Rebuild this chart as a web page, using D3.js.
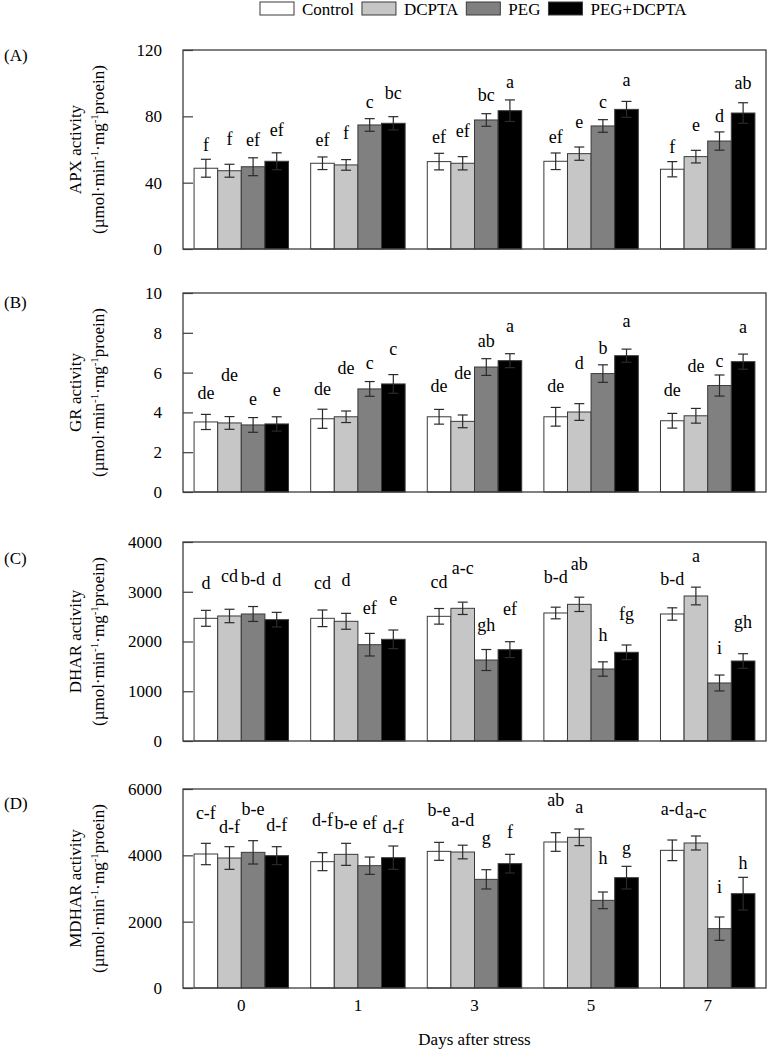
<!DOCTYPE html>
<html><head><meta charset="utf-8">
<script src="https://cdn.jsdelivr.net/npm/d3@7"></script>
<style>
html,body{margin:0;padding:0;background:#fff;}
svg{display:block;font-family:"Liberation Serif","Times New Roman",serif;}
</style></head>
<body><svg id="chart" width="767" height="1049"></svg>
<script>
// ---------- data ----------
const days = ["0", "1", "3", "5", "7"];
const series = ["Control", "DCPTA", "PEG", "PEG+DCPTA"];

// APX
const apxControl = [48.7, 51.7, 52.7, 52.9, 48.1];
const apxDcpta   = [47.2, 50.7, 51.7, 57.5, 55.7];
const apxPeg     = [49.6, 74.8, 77.8, 74.2, 65.1];
const apxPegDcpta= [52.9, 75.8, 83.4, 84.2, 82.0];
const apxErrControl = [5.4, 3.8, 5.0, 5.0, 4.6];
const apxErrDcpta   = [3.9, 3.2, 4.0, 4.0, 3.8];
const apxErrPeg     = [5.4, 3.8, 3.8, 3.8, 5.5];
const apxErrPegDcpta= [5.1, 4.0, 6.5, 4.8, 6.2];
const apxLetControl = ["f", "ef", "ef", "ef", "f"];
const apxLetDcpta   = ["f", "f", "ef", "e", "e"];
const apxLetPeg     = ["ef", "c", "bc", "c", "d"];
const apxLetPegDcpta= ["ef", "bc", "a", "a", "ab"];
const apxLetAtControl = [62.7, 65.7, 67.7, 67.5, 61.7];
const apxLetAtDcpta   = [66.3, 70.1, 71.3, 76.8, 74.8];
const apxLetAtPeg     = [65.7, 88.8, 92.9, 88.8, 80.2];
const apxLetAtPegDcpta= [71.8, 93.9, 100.9, 101.9, 100.3];
const apxTicks = [0, 40, 80, 120];

// GR
const grControl = [3.52, 3.68, 3.78, 3.78, 3.58];
const grDcpta   = [3.47, 3.78, 3.55, 4.02, 3.83];
const grPeg     = [3.37, 5.18, 6.28, 5.95, 5.35];
const grPegDcpta= [3.42, 5.43, 6.60, 6.85, 6.55];
const grErrControl = [0.38, 0.48, 0.37, 0.47, 0.37];
const grErrDcpta   = [0.32, 0.29, 0.32, 0.42, 0.37];
const grErrPeg     = [0.37, 0.37, 0.42, 0.44, 0.53];
const grErrPegDcpta= [0.36, 0.47, 0.35, 0.33, 0.38];
const grLetControl = ["de", "de", "de", "de", "de"];
const grLetDcpta   = ["de", "de", "de", "d", "de"];
const grLetPeg     = ["e", "c", "ab", "b", "c"];
const grLetPegDcpta= ["e", "c", "a", "a", "a"];
const grLetAtControl = [4.98, 5.18, 5.32, 5.32, 5.12];
const grLetAtDcpta   = [5.9, 6.23, 5.98, 6.48, 6.32];
const grLetAtPeg     = [4.65, 6.48, 7.57, 7.23, 6.6];
const grLetAtPegDcpta= [5.15, 7.18, 8.32, 8.58, 8.28];
const grTicks = [0, 2, 4, 6, 8, 10];

// DHAR
const dharControl = [2466, 2466, 2506, 2573, 2553];
const dharDcpta   = [2513, 2406, 2667, 2747, 2915];
const dharPeg     = [2553, 1936, 1628, 1447, 1166];
const dharPegDcpta= [2439, 2044, 1836, 1783, 1608];
const dharErrControl = [160, 167, 157, 117, 124];
const dharErrDcpta   = [135, 160, 124, 144, 178];
const dharErrPeg     = [150, 227, 211, 144, 160];
const dharErrPegDcpta= [147, 187, 160, 147, 147];
const dharLetControl = ["d", "cd", "cd", "b-d", "b-d"];
const dharLetDcpta   = ["cd", "d", "a-c", "ab", "a"];
const dharLetPeg     = ["b-d", "ef", "gh", "h", "i"];
const dharLetPegDcpta= ["d", "e", "ef", "fg", "gh"];
const dharLetAtControl = [3169, 3169, 3203, 3290, 3263];
const dharLetAtDcpta   = [3317, 3236, 3471, 3558, 3719];
const dharLetAtPeg     = [3250, 2667, 2332, 2131, 1863];
const dharLetAtPegDcpta= [3236, 2848, 2647, 2553, 2399];
const dharTicks = [0, 1000, 2000, 3000, 4000];

// MDHAR
const mdharControl = [4040, 3809, 4120, 4402, 4151];
const mdharDcpta   = [3919, 4030, 4100, 4543, 4372];
const mdharPeg     = [4090, 3688, 3276, 2643, 1789];
const mdharPegDcpta= [3990, 3929, 3749, 3327, 2844];
const mdharErrControl = [322, 271, 271, 281, 311];
const mdharErrDcpta   = [342, 332, 206, 251, 211];
const mdharErrPeg     = [352, 261, 291, 251, 352];
const mdharErrPegDcpta= [271, 352, 281, 341, 493];
const mdharLetControl = ["c-f", "d-f", "b-e", "ab", "a-d"];
const mdharLetDcpta   = ["d-f", "b-e", "a-d", "a", "a-c"];
const mdharLetPeg     = ["b-e", "ef", "g", "h", "i"];
const mdharLetPegDcpta= ["d-f", "d-f", "f", "g", "h"];
const mdharLetAtControl = [5286, 5065, 5367, 5668, 5387];
const mdharLetAtDcpta   = [4844, 4965, 5065, 5467, 5316];
const mdharLetAtPeg     = [5387, 4965, 4513, 3910, 3055];
const mdharLetAtPegDcpta= [4914, 4864, 4713, 4211, 3779];
const mdharTicks = [0, 2000, 4000, 6000];

const panelTags = ["(A)", "(B)", "(C)", "(D)"];
const yTitles = ["APX activity", "GR activity", "DHAR activity", "MDHAR activity"];
const xTitle = "Days after stress";

// ---------- layout / style ----------
const fills = ["#ffffff", "#c6c6c6", "#808080", "#000000"];
const svg = d3.select("#chart");
const X0 = 183, X1 = 766, PH = 199;
const panelTops = [50, 293, 542, 789];
const tagOffsets = [11, 15, 22, 20];

const x = d3.scaleBand().domain(days).range([X0, X1]).paddingInner(0.19).paddingOuter(0.095);
const xs = d3.scaleBand().domain(series).range([0, x.bandwidth()]).padding(0);

const panels = [
  {vals:[apxControl,apxDcpta,apxPeg,apxPegDcpta], errs:[apxErrControl,apxErrDcpta,apxErrPeg,apxErrPegDcpta],
   lets:[apxLetControl,apxLetDcpta,apxLetPeg,apxLetPegDcpta], letAt:[apxLetAtControl,apxLetAtDcpta,apxLetAtPeg,apxLetAtPegDcpta], ticks:apxTicks},
  {vals:[grControl,grDcpta,grPeg,grPegDcpta], errs:[grErrControl,grErrDcpta,grErrPeg,grErrPegDcpta],
   lets:[grLetControl,grLetDcpta,grLetPeg,grLetPegDcpta], letAt:[grLetAtControl,grLetAtDcpta,grLetAtPeg,grLetAtPegDcpta], ticks:grTicks},
  {vals:[dharControl,dharDcpta,dharPeg,dharPegDcpta], errs:[dharErrControl,dharErrDcpta,dharErrPeg,dharErrPegDcpta],
   lets:[dharLetControl,dharLetDcpta,dharLetPeg,dharLetPegDcpta], letAt:[dharLetAtControl,dharLetAtDcpta,dharLetAtPeg,dharLetAtPegDcpta], ticks:dharTicks},
  {vals:[mdharControl,mdharDcpta,mdharPeg,mdharPegDcpta], errs:[mdharErrControl,mdharErrDcpta,mdharErrPeg,mdharErrPegDcpta],
   lets:[mdharLetControl,mdharLetDcpta,mdharLetPeg,mdharLetPegDcpta], letAt:[mdharLetAtControl,mdharLetAtDcpta,mdharLetAtPeg,mdharLetAtPegDcpta], ticks:mdharTicks}
];

panels.forEach((p, pi) => {
  const top = panelTops[pi];
  const y = d3.scaleLinear().domain([0, d3.max(p.ticks)]).range([top + PH, top]);
  const g = svg.append("g");

  const recs = [];
  series.forEach((s, si) => days.forEach((d, di) => recs.push({
    s, d, si, v: p.vals[si][di], e: p.errs[si][di], l: p.lets[si][di], la: p.letAt[si][di]
  })));
  const cx = r => x(r.d) + xs(r.s) + xs.bandwidth() / 2;

  // bars
  g.selectAll("rect.bar").data(recs).join("rect").attr("class", "bar")
    .attr("x", r => x(r.d) + xs(r.s)).attr("width", xs.bandwidth())
    .attr("y", r => y(r.v)).attr("height", r => y(0) - y(r.v))
    .attr("fill", r => fills[r.si]).attr("stroke", "#3a3a3a").attr("stroke-width", 1);

  // error bars
  const cap = 5;
  const eb = g.selectAll("g.eb").data(recs).join("g").attr("class", "eb")
    .attr("stroke", "#2a2a2a").attr("stroke-width", 1.2);
  eb.append("line").attr("x1", cx).attr("x2", cx)
    .attr("y1", r => y(r.v + r.e)).attr("y2", r => y(r.v - r.e));
  eb.append("line").attr("x1", r => cx(r) - cap).attr("x2", r => cx(r) + cap)
    .attr("y1", r => y(r.v + r.e)).attr("y2", r => y(r.v + r.e));
  eb.append("line").attr("x1", r => cx(r) - cap).attr("x2", r => cx(r) + cap)
    .attr("y1", r => y(r.v - r.e)).attr("y2", r => y(r.v - r.e));

  // letters
  g.selectAll("text.let").data(recs).join("text").attr("class", "let")
    .attr("x", cx).attr("y", r => y(r.la) + 6)
    .attr("text-anchor", "middle").attr("font-size", 18).text(r => r.l);

  // frame
  g.append("rect").attr("x", X0).attr("y", top).attr("width", X1 - X0).attr("height", PH)
    .attr("fill", "none").attr("stroke", "#3c3c3c").attr("stroke-width", 1.3);

  // y axis with inward ticks
  const ax = g.append("g").attr("transform", `translate(${X0},0)`)
    .call(d3.axisLeft(y).tickValues(p.ticks).tickSizeInner(-10).tickSizeOuter(0).tickPadding(21).tickFormat(d3.format("d")));
  ax.select(".domain").remove();
  ax.selectAll(".tick line").attr("stroke", "#3c3c3c").attr("stroke-width", 1.2);
  ax.selectAll(".tick text").attr("font-size", 17).attr("font-family", "Liberation Serif").attr("fill", "#000");

  // y titles
  const cy = top + PH / 2;
  g.append("text").attr("transform", `translate(81,${cy}) rotate(-90)`).attr("text-anchor", "middle")
    .attr("font-size", 17).text(yTitles[pi]);
  const t2 = g.append("text").attr("transform", `translate(104,${cy}) rotate(-90)`).attr("text-anchor", "middle")
    .attr("font-size", 17);
  t2.append("tspan").text("(µmol·min");
  t2.append("tspan").attr("dy", -6).attr("font-size", 11).text("-1");
  t2.append("tspan").attr("dy", 6).text("·mg");
  t2.append("tspan").attr("dy", -6).attr("font-size", 11).text("-1");
  t2.append("tspan").attr("dy", 6).text("proein)");

  // panel tag
  g.append("text").attr("x", 4).attr("y", top + tagOffsets[pi]).attr("font-size", 17).text(panelTags[pi]);

  // x axis labels on last panel
  if (pi === panels.length - 1) {
    const xa = g.append("g").attr("transform", `translate(0,${top + PH})`)
      .call(d3.axisBottom(x).tickSize(0).tickPadding(11));
    xa.select(".domain").remove();
    xa.selectAll(".tick text").attr("font-size", 17).attr("font-family", "Liberation Serif").attr("fill", "#000");
    g.append("text").attr("x", (X0 + X1) / 2).attr("y", top + PH + 57).attr("text-anchor", "middle")
      .attr("font-size", 17).text(xTitle);
  }
});

// legend
const leg = svg.append("g");
let lx = 260;
series.forEach((s, i) => {
  leg.append("rect").attr("x", lx).attr("y", 2).attr("width", 34).attr("height", 13)
    .attr("fill", fills[i]).attr("stroke", "#3a3a3a").attr("stroke-width", 1);
  const t = leg.append("text").attr("x", lx + 42).attr("y", 15).attr("font-size", 17).text(s);
  lx = lx + 42 + t.node().getComputedTextLength() + 8;
});
</script>
</body></html>
